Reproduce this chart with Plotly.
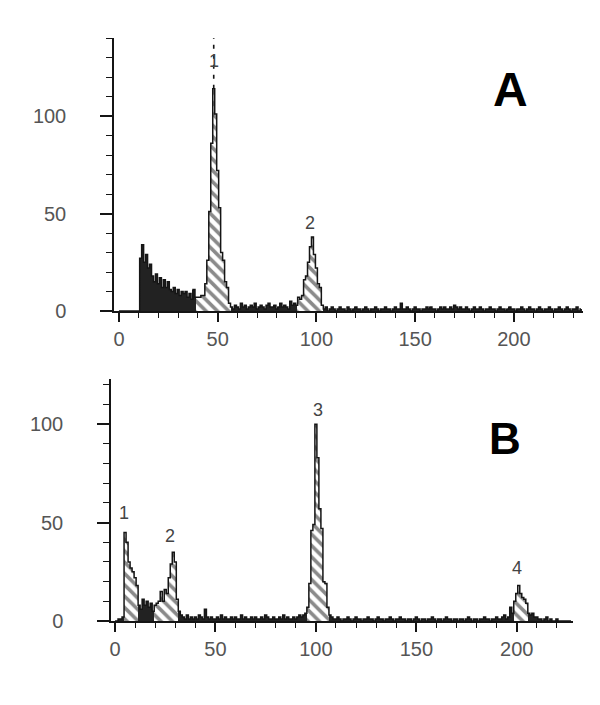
import plotly.graph_objects as go

# ---------------- data ----------------
# Panel A: counts per channel (channel 0..234)
A_counts = (
    [0] * 11
    + [27, 34, 25, 29, 22, 24, 18, 15, 19, 14, 17, 12, 16, 12, 15, 11, 10, 12, 9, 11,
       8, 10, 9, 10, 7, 9, 6, 11, 7]                                   # 11..39 debris
    + [7, 7, 8, 8, 14, 26, 51, 86, 114, 101, 72, 53, 30, 26, 15, 12, 4]  # 40..56 peak 1
    + [2, 1, 3, 2, 1, 4, 2, 3, 1, 2, 3, 2, 4, 1, 2, 3, 2, 1, 3, 4, 2, 2, 3, 1, 2, 4,
       2, 3, 2, 1, 5, 3, 4]                                             # 57..89
    + [3, 7, 6, 8, 16, 18, 25, 33, 38, 29, 22, 14, 12, 3]              # 90..103 peak 2
    + [1, 2, 0, 1, 2, 1, 0, 1, 2, 1, 1, 0, 2, 1, 0, 1, 2, 1, 1, 0,
       1, 2, 1, 0, 1, 1, 2, 1, 0, 1, 1, 2, 1, 1, 0, 1, 2, 1, 1, 4,
       1, 1, 2, 1, 0, 1, 2, 1, 1, 0, 1, 1, 2, 1, 2, 1, 1, 0, 1, 2,
       1, 2, 1, 1, 2, 1, 3, 2, 1, 2, 1, 1, 2, 1, 0, 1, 2, 1, 1, 2,
       1, 0, 1, 1, 2, 1, 1, 0, 1, 2, 1, 1, 0, 1, 2, 1, 1, 0, 1, 1,
       2, 1, 0, 1, 2, 1, 1, 0, 1, 2, 1, 0, 1, 1, 2, 1, 0, 1, 1, 2,
       1, 0, 1, 2, 1, 0, 1, 1, 2, 0, 1]                                 # 104..234
)
A_gates = [(40, 56), (91, 103)]
A_offscale_channel = 48
A_peak_labels = ["1", "2"]
A_peak_label_x = [48, 97]
A_peak_label_y = [128, 45]

# Panel B: counts per channel (channel 0..227)
B_counts = (
    [0, 0, 1, 1, 2]
    + [45, 40, 30, 27, 25, 22, 18]                                      # 5..11 peak 1
    + [8, 6, 11, 8, 10, 7, 9, 5]                                        # 12..19
    + [8, 9, 10, 15, 10, 16, 14, 22, 29, 35, 30, 11]                    # 20..31 peak 2
    + [5, 3]                                                            # 32..33
    + [2, 1, 3, 1, 2, 1, 2, 1, 3, 2, 1, 6, 2, 1, 2, 1, 1, 2, 1, 3,
       1, 2, 1, 1, 2, 1, 2, 1, 1, 3, 1, 2, 1, 1, 2, 1, 2, 1, 1, 2,
       1, 3, 2, 1, 1, 2, 1, 1, 2, 1, 3, 1, 2, 1, 1, 2, 1, 2, 3, 2, 3]    # 34..94
    + [4, 7, 19, 46, 49, 100, 83, 57, 47, 20, 19, 7, 3]                 # 95..107 peak 3
    + [2, 1, 1, 2, 1, 0, 1, 1, 2, 1, 0, 1, 2, 1, 1, 0, 1, 1, 2, 1,
       1, 0, 1, 2, 1, 1, 0, 1, 1, 2, 1, 0, 1, 1, 2, 1, 1, 0, 1, 1,
       0, 1, 2, 1, 0, 1, 1, 0, 1, 1, 2, 1, 0, 1, 1, 0, 1, 2, 1, 1,
       0, 1, 1, 0, 1, 1, 0, 1, 2, 1, 0, 1, 1, 0, 1, 1, 2, 1, 1, 0,
       1, 1, 2, 1, 1, 2, 3, 1]                                          # 108..195
    + [2, 7, 4, 10, 14, 18, 14, 12, 11, 9, 4, 3, 4, 2, 2, 1]            # 196..211 peak 4
    + [1, 0, 1, 2, 0, 1, 0, 0, 1, 0, 0, 0, 0, 0, 0, 0]                  # 212..227
)
B_gates = [(5, 11), (20, 31), (96, 106), (199, 205)]
B_peak_labels = ["1", "2", "3", "4"]
B_peak_label_x = [4.5, 27.5, 101, 200]
B_peak_label_y = [55, 43, 107, 27]

X_TICKS = [0, 50, 100, 150, 200]
Y_TICKS = [0, 50, 100]
A_xrange = [-2.5, 235]
A_yrange = [0, 140]
B_xrange = [-2, 228]
B_yrange = [0, 123]

# ---------------- figure ----------------
W, H = 600, 705
fig = go.Figure()

INK = "#151515"
HATCH = dict(shape="\\", fgcolor=INK, bgcolor="white", size=8, solidity=0.45)


def add_panel(counts, gates, xa, ya):
    ch = list(range(len(counts)))
    in_gate = [any(a <= c <= b for a, b in gates) for c in ch]
    hx = [c for c in ch if in_gate[c]]
    hy = [counts[c] for c in ch if in_gate[c]]
    sx = [c for c in ch if not in_gate[c]]
    sy = [counts[c] for c in ch if not in_gate[c]]
    fig.add_trace(go.Bar(x=sx, y=sy, width=1, xaxis=xa, yaxis=ya,
                         marker=dict(color="#222222", line=dict(width=0)),
                         showlegend=False, hoverinfo="skip"))
    fig.add_trace(go.Bar(x=hx, y=hy, width=1, xaxis=xa, yaxis=ya,
                         marker=dict(color="white", line=dict(width=0), pattern=HATCH),
                         showlegend=False, hoverinfo="skip"))
    fig.add_trace(go.Scatter(x=ch, y=counts, mode="lines", xaxis=xa, yaxis=ya,
                             line=dict(shape="hvh", color=INK, width=1.5),
                             showlegend=False, hoverinfo="skip"))


add_panel(A_counts, A_gates, "x", "y")
add_panel(B_counts, B_gates, "x2", "y2")

# off-scale marker above peak 1 of panel A (dashed)
fig.add_trace(go.Scatter(x=[A_offscale_channel, A_offscale_channel],
                         y=[A_counts[A_offscale_channel], A_yrange[1]],
                         mode="lines", xaxis="x", yaxis="y",
                         line=dict(color=INK, width=1.6, dash="4px,6px"),
                         showlegend=False, hoverinfo="skip"))

TICKFONT = dict(family="Liberation Sans, Arial, sans-serif", size=20, color="#555555")


def xaxis_style(rng, dom, anchor):
    return dict(range=rng, domain=dom, anchor=anchor, showline=True, linecolor=INK,
                linewidth=1.5, showgrid=False, zeroline=False,
                tickmode="array", tickvals=X_TICKS, ticks="outside", ticklen=9,
                tickwidth=1.5, tickcolor=INK, tickfont=TICKFONT,
                minor=dict(ticks="outside", dtick=10, tick0=0, ticklen=5,
                           tickwidth=1.2, tickcolor=INK, showgrid=False))


def yaxis_style(rng, dom, anchor):
    return dict(range=rng, domain=dom, anchor=anchor, showline=True, linecolor=INK,
                linewidth=1.5, showgrid=False, zeroline=False,
                tickmode="array", tickvals=Y_TICKS, ticks="outside", ticklen=12,
                tickwidth=1.5, tickcolor=INK, tickfont=TICKFONT, ticklabelstandoff=30,
                minor=dict(ticks="outside", dtick=10, tick0=0, ticklen=6,
                           tickwidth=1.2, tickcolor=INK, showgrid=False))


def px_x(p):
    return p / W


def px_y(p):
    return (H - p) / H


annotations = [
    dict(text="<b>A</b>", x=px_x(510), y=px_y(90), xref="paper", yref="paper",
         xanchor="center", yanchor="middle", showarrow=False,
         font=dict(family="Liberation Sans, Arial", size=48, color="black")),
    dict(text="<b>B</b>", x=px_x(505), y=px_y(438), xref="paper", yref="paper",
         xanchor="center", yanchor="middle", showarrow=False,
         font=dict(family="Liberation Sans, Arial", size=44, color="black")),
]
LBLFONT = dict(family="Liberation Sans, Arial, sans-serif", size=18, color="#444444")
for t, x, y in zip(A_peak_labels, A_peak_label_x, A_peak_label_y):
    annotations.append(dict(text=t, x=x, y=y, xref="x", yref="y", showarrow=False,
                            xanchor="center", yanchor="middle", font=LBLFONT))
for t, x, y in zip(B_peak_labels, B_peak_label_x, B_peak_label_y):
    annotations.append(dict(text=t, x=x, y=y, xref="x2", yref="y2", showarrow=False,
                            xanchor="center", yanchor="middle", font=LBLFONT))

fig.update_layout(
    width=W, height=H, autosize=False,
    margin=dict(l=0, r=0, t=0, b=0, autoexpand=False),
    paper_bgcolor="white", plot_bgcolor="white",
    bargap=0, barmode="overlay",
    xaxis=xaxis_style(A_xrange, [px_x(114), px_x(583)], "y"),
    yaxis=yaxis_style(A_yrange, [px_y(311), px_y(38)], "x"),
    xaxis2=xaxis_style(B_xrange, [px_x(111), px_x(573)], "y2"),
    yaxis2=yaxis_style(B_yrange, [px_y(621), px_y(379)], "x2"),
    annotations=annotations,
)

fig.write_html("out.html",
               config={"displayModeBar": False, "responsive": False},
               post_script="document.body.style.margin='0px';")
